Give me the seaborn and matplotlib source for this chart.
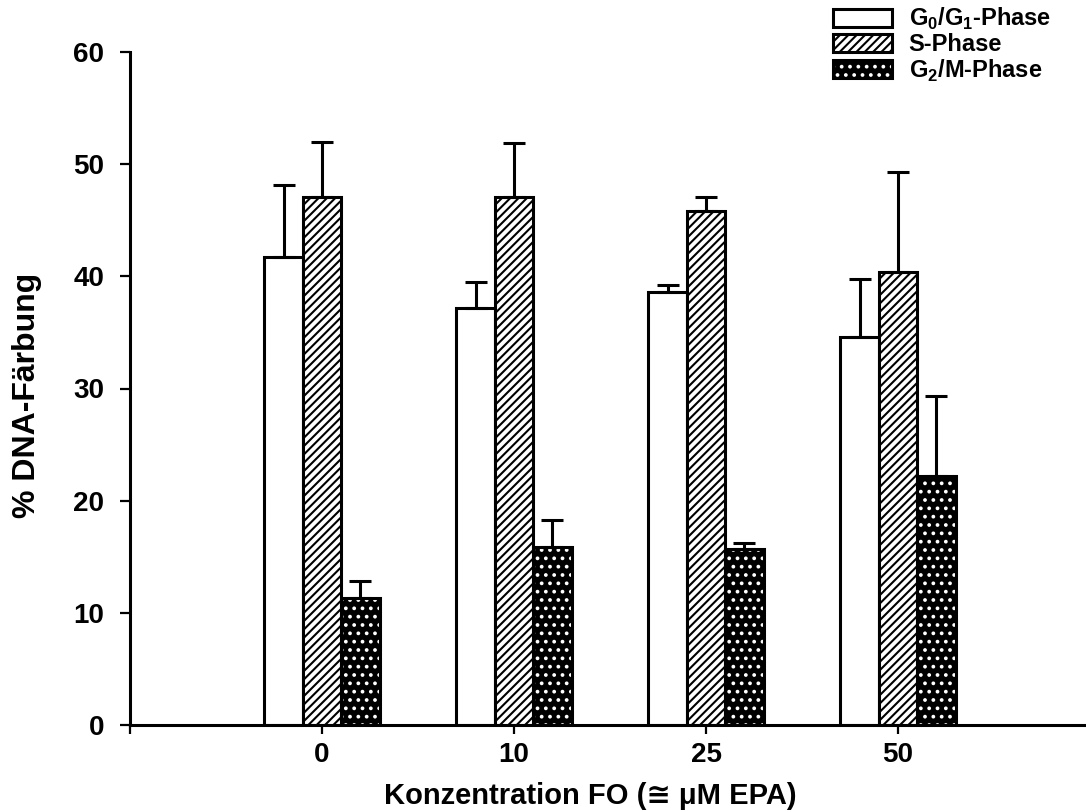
import numpy as np
import pandas as pd
import matplotlib
matplotlib.use("Agg")
import matplotlib.pyplot as plt
import seaborn as sns
from matplotlib.patches import Rectangle

# ---------------- data ----------------
concentrations = ["0", "10", "25", "50"]
phases = [r"G$_{\mathbf{0}}$/G$_{\mathbf{1}}$-Phase", "S-Phase", r"G$_{\mathbf{2}}$/M-Phase"]
g0g1_mean = [41.7, 37.2, 38.6, 34.6]
g0g1_err = [6.4, 2.3, 0.6, 5.2]
s_mean = [47.1, 47.1, 45.8, 40.4]
s_err = [4.9, 4.8, 1.3, 8.9]
g2m_mean = [11.3, 15.9, 15.7, 22.2]
g2m_err = [1.5, 2.4, 0.5, 7.1]
y_ticks = [0, 10, 20, 30, 40, 50, 60]
x_label = "Konzentration FO (\u2245 \u03bcM EPA)"
y_label = "% DNA-F\u00e4rbung"

means = [g0g1_mean, s_mean, g2m_mean]
errs = [g0g1_err, s_err, g2m_err]

df = pd.DataFrame({
    "conc": concentrations * 3,
    "phase": [p for p in phases for _ in concentrations],
    "value": g0g1_mean + s_mean + g2m_mean,
})

# ---------------- style ----------------
sns.set_style("white")
plt.rcParams["font.family"] = ["Liberation Sans", "DejaVu Sans"]
plt.rcParams["font.weight"] = "bold"
plt.rcParams["mathtext.fontset"] = "custom"
plt.rcParams["mathtext.rm"] = "Liberation Sans"
plt.rcParams["mathtext.bf"] = "Liberation Sans:bold"
plt.rcParams["hatch.linewidth"] = 1.5
for k in ["text.color", "axes.labelcolor", "xtick.color", "ytick.color"]:
    plt.rcParams[k] = "black"

LW = 2.2
fig = plt.figure(figsize=(10.86, 8.10), dpi=100)
ax = fig.add_axes([130 / 1086, 1 - 725 / 810, 960 / 1086, (725 - 52) / 810])

sns.barplot(data=df, x="conc", y="value", hue="phase", order=concentrations,
            hue_order=phases, width=0.6, palette=["white"] * 3, saturation=1,
            edgecolor="black", linewidth=LW, errorbar=None, legend=False, ax=ax)

n = len(concentrations)
groups = [ax.patches[i * n:(i + 1) * n] for i in range(3)]

# S-phase hatch
for p in groups[1]:
    p.set_hatch("////")

# G2/M: black with white dots, separate black outline
outlines = []
for p in groups[2]:
    p.set_facecolor("black")
    p.set_edgecolor("white")
    p.set_hatch("..")
    p.set_linewidth(0)
    r = Rectangle((p.get_x(), p.get_y()), p.get_width(), p.get_height(),
                  fill=False, edgecolor="black", linewidth=LW, zorder=p.get_zorder() + 0.1)
    ax.add_patch(r)
    outlines.append(r)

# error bars (upper only)
for g, e in zip(groups, errs):
    xs = [p.get_x() + p.get_width() / 2 for p in g]
    ys = [p.get_height() for p in g]
    ax.errorbar(xs, ys, yerr=[np.zeros(len(e)), e], fmt="none", ecolor="black",
                elinewidth=LW, capsize=8, capthick=LW, zorder=5)

# axes
ax.set_xlim(-1, 4)
ax.set_ylim(0, 60)
ax.set_yticks(y_ticks)
ax.set_yticklabels([str(t) for t in y_ticks])
ax.set_xticks([-1, 0, 1, 2, 3])
ax.set_xticklabels([""] + concentrations)
for s in ["top", "right"]:
    ax.spines[s].set_visible(False)
for s in ["left", "bottom"]:
    ax.spines[s].set_linewidth(LW)
    ax.spines[s].set_color("black")
ax.tick_params(axis="y", direction="out", length=7.5, width=1.6, pad=11, labelsize=20, left=True)
ax.tick_params(axis="x", direction="out", length=6.5, width=1.6, pad=6, labelsize=20, bottom=True)
for lab in ax.get_xticklabels() + ax.get_yticklabels():
    lab.set_fontweight("bold")

ax.set_xlabel(x_label, fontsize=21, fontweight="bold")
ax.set_ylabel(y_label, fontsize=23, fontweight="bold")
ax.xaxis.set_label_coords(0.479, -0.085)
ax.yaxis.set_label_coords(-0.092, 0.49)

# legend
handles = [groups[0][0], groups[1][0], (groups[2][0], outlines[0])]
leg = fig.legend(handles, phases, loc="upper left", bbox_to_anchor=(833 / 1086, 1 - 6 / 810),
                 frameon=False, fontsize=17, handlelength=2.5, handleheight=0.8,
                 handletextpad=0.7, labelspacing=0.05, borderpad=0, borderaxespad=0)
for t in leg.get_texts():
    t.set_fontweight("bold")

fig.savefig("out.png", dpi=100)
